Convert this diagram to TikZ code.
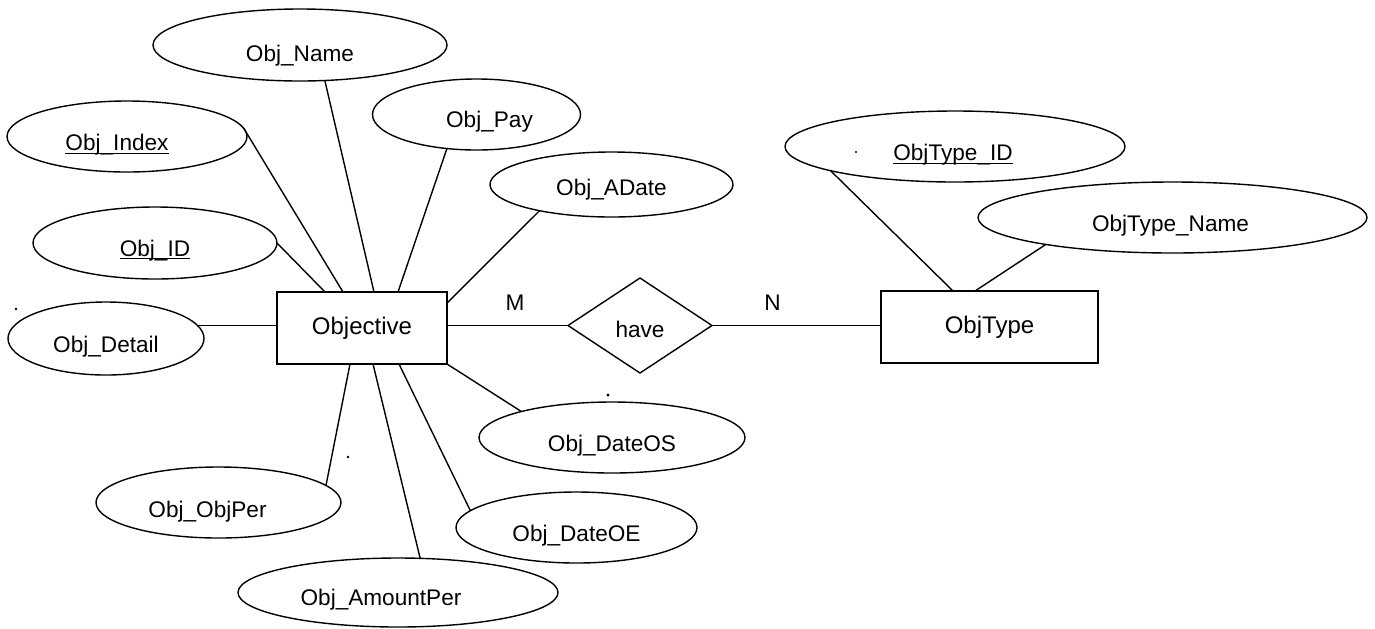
\documentclass[tikz,border=0pt]{standalone}
\usepackage{fontspec}
\setmainfont{Liberation Sans}
\usetikzlibrary{shapes.geometric,calc}

% key attribute: text with an underline running through the underscore
\newcommand\keyattr[1]{\setbox0\hbox{#1}\rlap{\rule[-1.6pt]{\wd0}{0.6pt}}\box0}

\begin{document}
\begin{tikzpicture}[x=0.5pt,y=-0.5pt,line width=0.7pt,
  attr/.style={ellipse,draw,inner sep=0pt,outer sep=0pt},
  entity/.style={rectangle,draw,inner sep=0pt,outer sep=0pt,minimum height=36pt,
                 font=\fontsize{12}{14}\selectfont},
  rel/.style={diamond,draw,inner sep=0pt,outer sep=0pt},
  txt/.style={inner sep=0pt,font=\fontsize{11.3}{13}\selectfont},
  speck/.style={fill=black}]
\useasboundingbox (0,0) rectangle (1375,628);

% entities and relationship
\node[entity,minimum width=85pt] (obj) at (362,328) {Objective};
\node[entity,minimum width=108.5pt] (otype) at (989.5,327) {ObjType};
\node[rel,minimum width=72pt,minimum height=47.5pt,
      label={[txt,yshift=-2pt]center:have}] (have) at (640,325.5) {};

% attributes of Objective
\node[attr,minimum width=147pt,minimum height=36pt,
      label={[txt,yshift=-5.2pt]center:Obj\_Name}] (name) at (300,45) {};
\node[attr,minimum width=104pt,minimum height=35.5pt,
      label={[txt,xshift=6.5pt,yshift=-3.6pt]center:Obj\_Pay}] (pay) at (476.5,114.5) {};
\node[attr,minimum width=121.5pt,minimum height=32.5pt,
      label={[txt,yshift=-2.6pt]center:Obj\_ADate}] (adate) at (611.5,184.5) {};
\node[attr,minimum width=120pt,minimum height=35.5pt,
      label={[txt,xshift=-5pt,yshift=-4.2pt]center:\keyattr{Obj\_Index}}] (idx) at (127,136.5) {};
\node[attr,minimum width=122pt,minimum height=36pt,
      label={[txt,yshift=-3.6pt]center:\keyattr{Obj\_ID}}] (id) at (155,243) {};
\node[attr,minimum width=98pt,minimum height=36.5pt,
      label={[txt,yshift=-4.2pt]center:Obj\_Detail}] (det) at (106,338.5) {};
\node[attr,minimum width=133pt,minimum height=35.5pt,
      label={[txt,yshift=-4.2pt]center:Obj\_DateOS}] (dos) at (612,437.5) {};
\node[attr,minimum width=120.5pt,minimum height=35.5pt,
      label={[txt,yshift=-4.2pt]center:Obj\_DateOE}] (doe) at (576.5,527.5) {};
\node[attr,minimum width=122.5pt,minimum height=35.5pt,
      label={[txt,xshift=-5.5pt,yshift=-4.6pt]center:Obj\_ObjPer}] (oper) at (218.5,502.5) {};
\node[attr,minimum width=160pt,minimum height=34.5pt,
      label={[txt,xshift=-8.5pt,yshift=-3.6pt]center:Obj\_AmountPer}] (amt) at (398,592.5) {};

% attributes of ObjType
\node[attr,minimum width=170pt,minimum height=35.5pt,
      label={[txt,xshift=-1pt,yshift=-4.2pt]center:\keyattr{ObjType\_ID}}] (tid) at (955,146.5) {};
\node[attr,minimum width=194.5pt,minimum height=35.5pt,
      label={[txt,xshift=-1pt,yshift=-4.2pt]center:ObjType\_Name}] (tname) at (1172.5,217.5) {};

% cardinalities
\node[txt] (m) at (515,303) {M};
\node[txt] (n) at (772.5,303) {N};

% connectors
\draw (idx.4) -- ([shift={(66,0)}]obj.north west);
\draw (name.-55) -- ([shift={(97,0)}]obj.north west);
\draw (id.east) -- ([shift={(48,0)}]obj.north west);
\draw (pay.-131) -- ([shift={(121,0)}]obj.north west);
\draw (adate.-160) -- ([shift={(0,11)}]obj.north east);
\draw (det.8) -- (det.8 -| obj.west);
\draw (obj.south east) -- (dos.164);
\draw ([shift={(73,0)}]obj.south west) -- (oper.9);
\draw ([shift={(96,0)}]obj.south west) -- (amt.57);
\draw ([shift={(122,0)}]obj.south west) -- (doe.171);
\draw (have.west -| obj.east) -- (have.west);
\draw (have.east) -- (have.east -| otype.west);
\draw (tid.-169) -- ([shift={(72,0)}]otype.north west);
\draw (tname.-168) -- ([shift={(94,0)}]otype.north west);

% stray specks
\fill[speck] (16,309) circle (1.3);
\fill[speck] (348,457) circle (1.3);
\fill[speck] (608,395) circle (1.6);
\fill[speck] (856,152) circle (1.1);
\end{tikzpicture}
\end{document}
